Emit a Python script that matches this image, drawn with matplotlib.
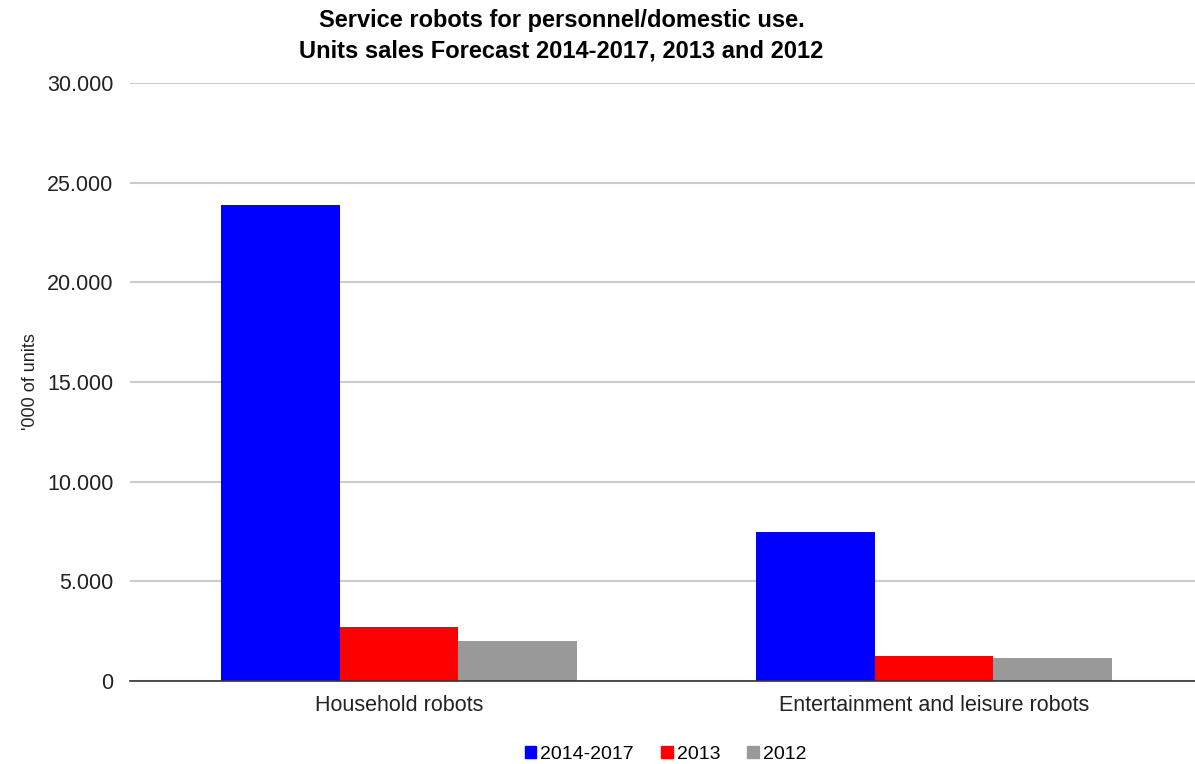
import matplotlib.pyplot as plt
import numpy as np
from matplotlib.ticker import FuncFormatter
from matplotlib.patches import Patch

plt.rcParams['font.family'] = ['Liberation Sans', 'DejaVu Sans']

categories = ["Household robots", "Entertainment and leisure robots"]
series = ["2014-2017", "2013", "2012"]
values_2014_2017 = [23900, 7500]
values_2013 = [2700, 1250]
values_2012 = [2000, 1150]
colors = ["#0000ff", "#ff0000", "#999999"]

fig = plt.figure(figsize=(11.95, 7.64), dpi=100)
ax = fig.add_axes([0.1088, 0.1086, 0.8912, 0.7828])

x = np.arange(len(categories))
w = 0.222
for i, (vals, c) in enumerate(zip([values_2014_2017, values_2013, values_2012], colors)):
    ax.bar(x + (i - 1) * w, vals, width=w, color=c, zorder=3)

ax.set_xlim(-0.503, 1.488)
ax.set_ylim(0, 30000)
ax.set_yticks(range(0, 30001, 5000))
ax.yaxis.set_major_formatter(FuncFormatter(lambda v, p: f"{int(v):,}".replace(",", ".")))
ax.set_xticks(x)
ax.set_xticklabels(categories, fontsize=15.5, color="#222222")
ax.tick_params(axis='y', labelsize=15.5, labelcolor="#222222", length=0, pad=12)
ax.tick_params(axis='x', length=0, pad=10)
ax.grid(axis='y', color="#cccccc", linewidth=1.5, zorder=0)
for s in ['top', 'right', 'left']:
    ax.spines[s].set_visible(False)
ax.spines['bottom'].set_color("#333333")
ax.spines['bottom'].set_linewidth(1.2)
ax.spines['bottom'].set_zorder(4)

ax.set_ylabel("'000 of units", fontsize=13, color="#222222", labelpad=6)

fig.text(0.47, 0.953, "Service robots for personnel/domestic use.\nUnits sales Forecast 2014-2017, 2013 and 2012",
         ha='center', va='center', fontsize=17, fontweight='bold', linespacing=1.4)

handles = [Patch(color=c, label=s) for s, c in zip(series, colors)]
fig.legend(handles=handles, loc='center', bbox_to_anchor=(0.557, 0.013), ncol=3, frameon=False,
           fontsize=14, handlelength=0.6, handleheight=0.6, handletextpad=0.2, columnspacing=1.4)

fig.savefig("out.png", dpi=100)
